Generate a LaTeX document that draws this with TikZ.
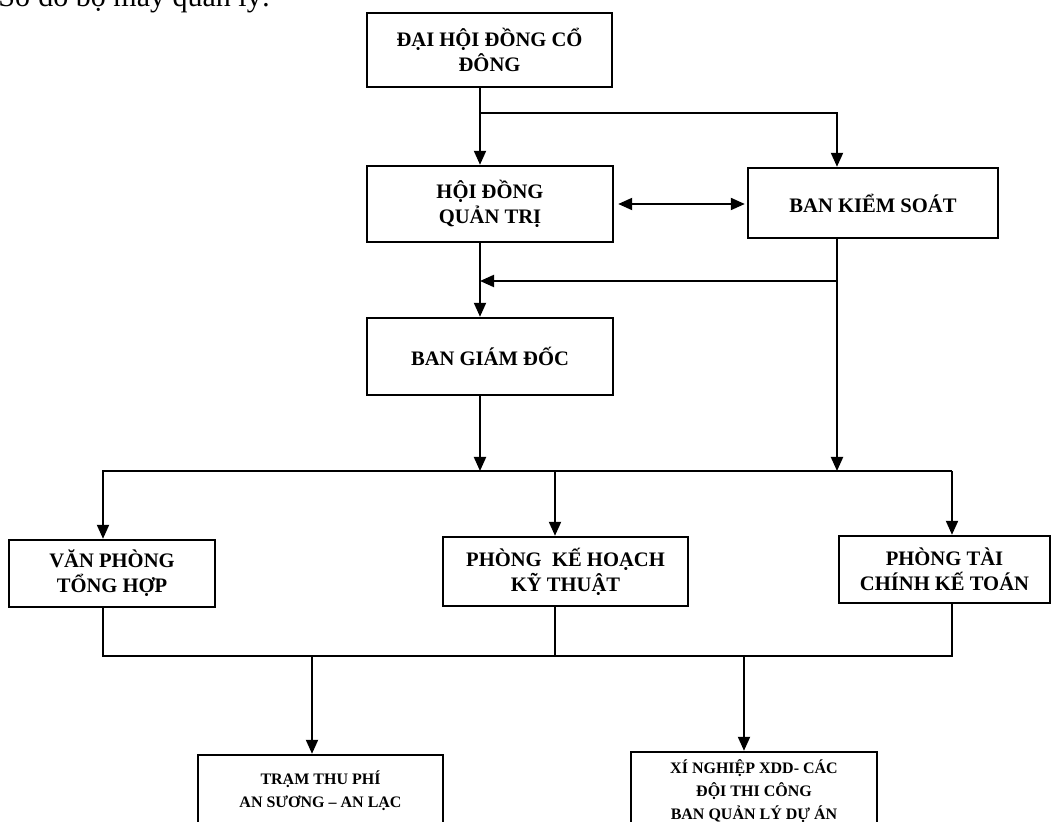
\documentclass[tikz,border=0pt]{standalone}
\usepackage{fontspec}
\setmainfont{Liberation Serif}
\usetikzlibrary{positioning}
\usetikzlibrary{arrows.meta}

\begin{document}
\begin{tikzpicture}[x=0.5pt, y=-0.5pt, black, align=center,
  >={Triangle[length=7pt, width=6pt]},
  box/.style={draw, line width=1.2pt, inner sep=2pt, font=\bfseries\fontsize{10.3}{12.5}\selectfont},
  low/.style={box, font=\bfseries\fontsize{8}{11.5}\selectfont},
  arr/.style={line width=1pt, ->},
  link/.style={line width=1pt}]
  \useasboundingbox (0,0) rectangle (1055,822);
  \clip (0,0) rectangle (1055,822);
  \node[anchor=base west, inner sep=0, font=\fontsize{15}{18}\selectfont] (title) at (-2,7) {Sơ đồ bộ máy quản lý:};
  \node[box, minimum width=122.5pt, minimum height=37pt] (dh) at (489.5,50) {ĐẠI HỘI ĐỒNG CỔ\\ĐÔNG};
  \node[box, minimum width=123pt, minimum height=38pt] (hd) at (490,204) {HỘI ĐỒNG\\QUẢN TRỊ};
  \node[box, minimum width=125pt, minimum height=35pt] (bks) at (873,203) {BAN KIỂM SOÁT};
  \node[box, minimum width=123pt, minimum height=38.5pt] (bgd) at (490,356.5) {BAN GIÁM ĐỐC};
  \node[box, minimum width=103pt, minimum height=33.5pt] (vp) at (112,573.5) {VĂN PHÒNG\\TỔNG HỢP};
  \node[box, minimum width=122.5pt, minimum height=34.5pt] (pkh) at (565.5,571.5) {PHÒNG\ \ KẾ HOẠCH\\KỸ THUẬT};
  \node[box, minimum width=105.5pt, minimum height=33.5pt] (ptc) at (944.5,569.5) {PHÒNG TÀI\\CHÍNH KẾ TOÁN};
  \node[low, minimum width=122.5pt, minimum height=36pt] (tram) at (320.5,791) {TRẠM THU PHÍ\\AN SƯƠNG – AN LẠC};
  \node[low, minimum width=123pt, minimum height=39pt] (xn) at (754,791) {XÍ NGHIỆP XDD- CÁC\\ĐỘI THI CÔNG\\BAN QUẢN LÝ DỰ ÁN};

  \coordinate (a1) at (480,113);
  \coordinate (k1) at (837,113);
  \coordinate (k2) at (837,281);
  \coordinate (a2) at (480,281);
  \coordinate (a3) at (480,471);
  \coordinate (k3) at (837,471);
  \coordinate (v3) at (103,471);
  \coordinate (h3) at (555,471);
  \coordinate (p3) at (952,471);
  \coordinate (v4) at (103,656);
  \coordinate (h4) at (555,656);
  \coordinate (p4) at (952,656);
  \coordinate (t4) at (312,656);
  \coordinate (x4) at (744,656);

  \draw[arr] (dh.south -| a1) -- (hd.north -| a1);
  \draw[arr] (a1) -- (k1) -- (bks.north -| k1);
  \draw[arr, <->, shorten <=2pt, shorten >=1pt] (hd.east) -- (hd.east -| bks.west);
  \draw[arr] (hd.south -| a1) -- (bgd.north -| a1);
  \draw[arr] (k2) -- (a2);
  \draw[arr] (bks.south -| k1) -- (k3);
  \draw[arr] (bgd.south -| a1) -- (a3);
  \draw[arr] (p3) -- (v3) -- (vp.north -| v3);
  \draw[arr] (h3) -- (pkh.north -| h3);
  \draw[arr] (p3) -- (ptc.north -| p3);
  \draw[link] (vp.south -| v4) -- (v4) -- (p4) -- (ptc.south -| p4);
  \draw[link] (pkh.south -| h4) -- (h4);
  \draw[arr] (t4) -- (tram.north -| t4);
  \draw[arr] (x4) -- (xn.north -| x4);
\end{tikzpicture}
\end{document}
